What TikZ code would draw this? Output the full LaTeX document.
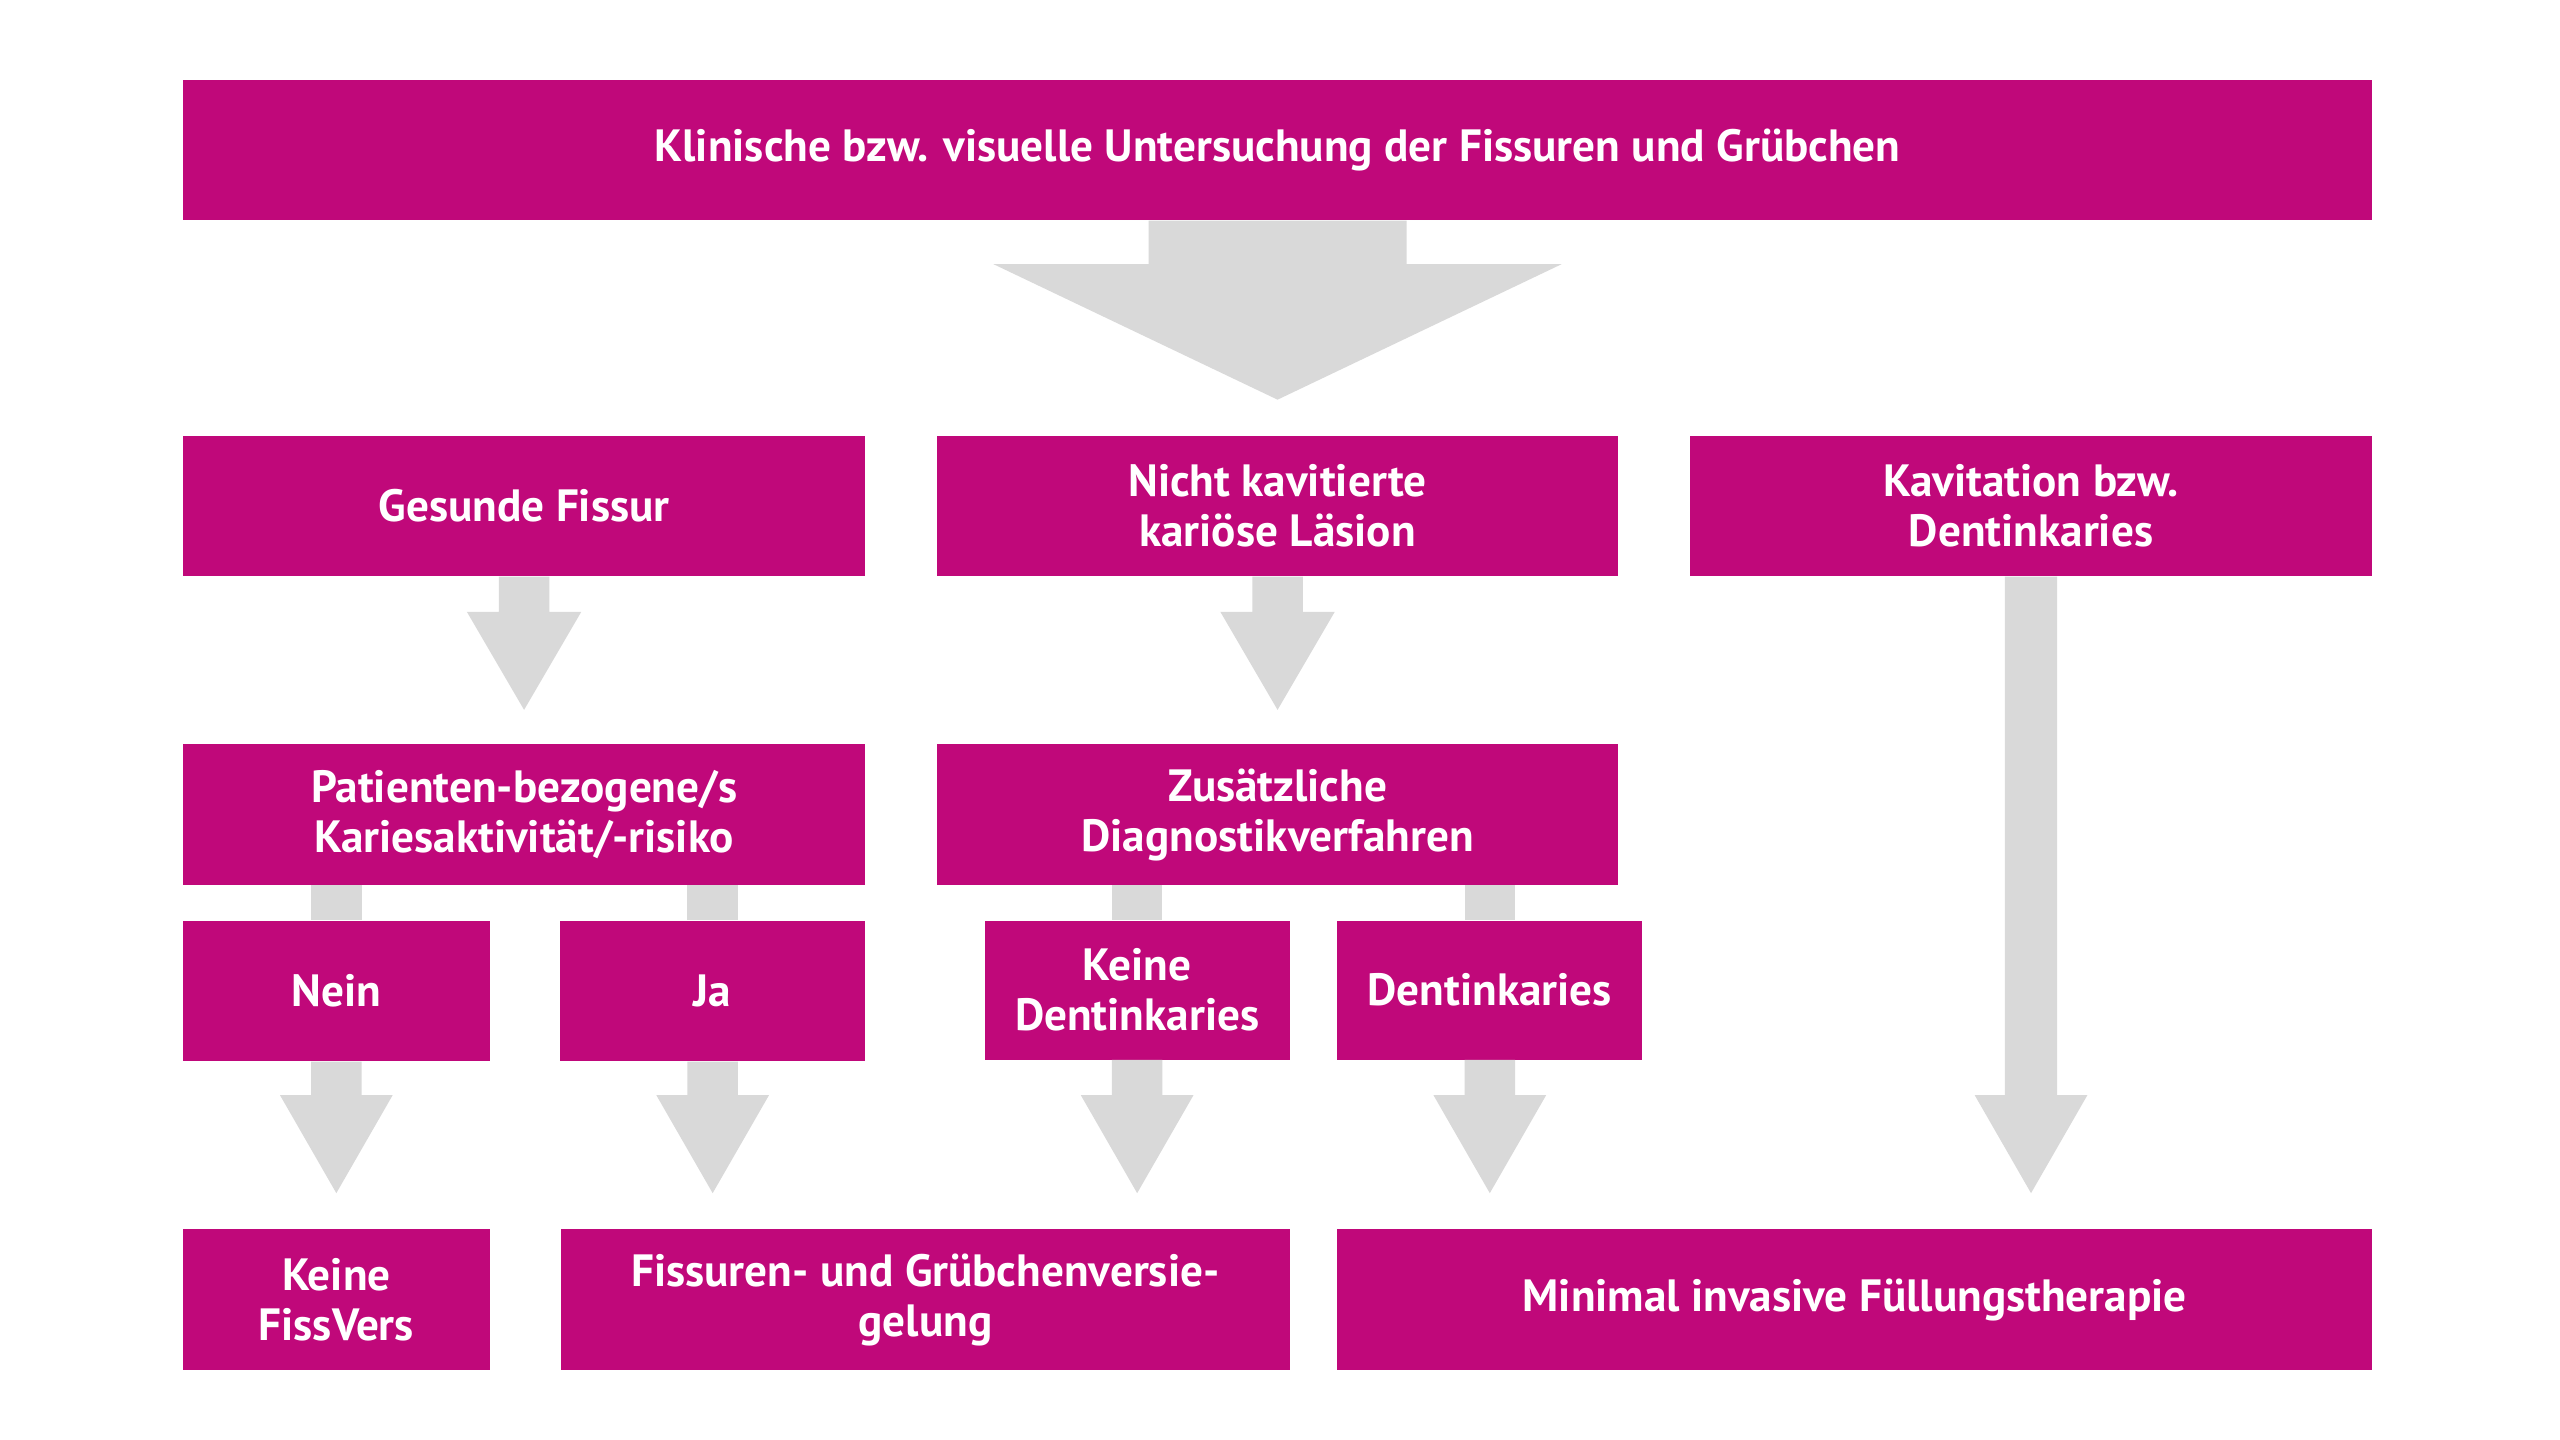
\documentclass[tikz,border=0pt]{standalone}
\usepackage{fontspec}
\setmainfont{PT Sans}
\usetikzlibrary{calc}
\definecolor{mag}{RGB}{192,8,122}
\definecolor{agrey}{RGB}{217,217,217}
\tikzset{
  box/.style={fill=mag, text=white, font=\bfseries\fontsize{27.7}{30.6}\selectfont,
    align=center, inner sep=0pt, minimum height=86pt},
  conn/.style={fill=agrey}
}
% #1 start, #2 tip, #3 shaft half width, #4 head half width, #5 head length
\newcommand\blockarrow[5]{%
  \fill[conn] let \p1=(#1), \p2=(#2) in
    (\x1-#3,\y1) -- (\x1+#3,\y1) -- (\x1+#3,\y2+#5) -- (\x1+#4,\y2+#5)
    -- (\x1,\y2) -- (\x1-#4,\y2+#5) -- (\x1-#3,\y2+#5) -- cycle;}
\begin{document}
\begin{tikzpicture}[x=1pt,y=-1pt]
\useasboundingbox (0,0) rectangle (1568,882);
\fill[white] (0,0) rectangle (1568,882);

\node[box, minimum width=1341pt] (top) at (782.5,92) {Klinische bzw. visuelle Untersuchung der Fissuren und Grübchen};

\node[box, minimum width=418pt] (gf) at (321,310) {Gesunde Fissur};
\node[box, minimum width=417pt] (nk) at (782.5,310) {Nicht kavitierte\\kariöse Läsion};
\node[box, minimum width=418pt] (kav) at (1244,310) {Kavitation bzw.\\Dentinkaries};

\node[box, minimum width=418pt] (pat) at (321,499) {Patienten-bezogene/s\\Kariesaktivität/-risiko};
\node[box, minimum width=417pt] (zus) at (782.5,499) {Zusätzliche\\Diagnostikverfahren};

\node[box, minimum width=188pt] (nein) at (206,607) {Nein};
\node[box, minimum width=187pt] (ja) at (436.5,607) {Ja};
\node[box, minimum width=187pt, minimum height=85pt] (kd) at (696.5,606.5) {Keine\\Dentinkaries};
\node[box, minimum width=187pt, minimum height=85pt] (dk) at (912.5,606.5) {Dentinkaries};

\node[box, minimum width=188pt] (kf) at (206,796) {Keine\\FissVers};
\node[box, minimum width=446.4pt] (fv) at (566.8,796) {Fissuren- und Grübchenversie-\\gelung};
\node[box, minimum width=634pt] (mi) at (1136,796) {Minimal invasive Füllungstherapie};

% connectors
\blockarrow{top.south}{$(nk.north)+(0,-22)$}{79pt}{174pt}{83pt}
\blockarrow{gf.south}{$(pat.north)+(0,-21)$}{15.5pt}{35pt}{60pt}
\blockarrow{nk.south}{$(zus.north)+(0,-21)$}{15.5pt}{35pt}{60pt}

\fill[conn] ($(pat.south -| nein.north)+(-15.5,0)$) rectangle ($(nein.north)+(15.5,0)$);
\fill[conn] ($(pat.south -| ja.north)+(-15.5,0)$) rectangle ($(ja.north)+(15.5,0)$);
\fill[conn] ($(zus.south -| kd.north)+(-15.5,0)$) rectangle ($(kd.north)+(15.5,0)$);
\fill[conn] ($(zus.south -| dk.north)+(-15.5,0)$) rectangle ($(dk.north)+(15.5,0)$);

\blockarrow{nein.south}{$(kf.north -| nein.south)+(0,-22)$}{15.5pt}{34.5pt}{60pt}
\blockarrow{ja.south}{$(fv.north -| ja.south)+(0,-22)$}{15.5pt}{34.5pt}{60pt}
\blockarrow{kd.south}{$(fv.north -| kd.south)+(0,-22)$}{15.5pt}{34.5pt}{60pt}
\blockarrow{dk.south}{$(mi.north -| dk.south)+(0,-22)$}{15.5pt}{34.5pt}{60pt}
\blockarrow{kav.south}{$(mi.north -| kav.south)+(0,-22)$}{16pt}{34.5pt}{60pt}
\end{tikzpicture}
\end{document}
